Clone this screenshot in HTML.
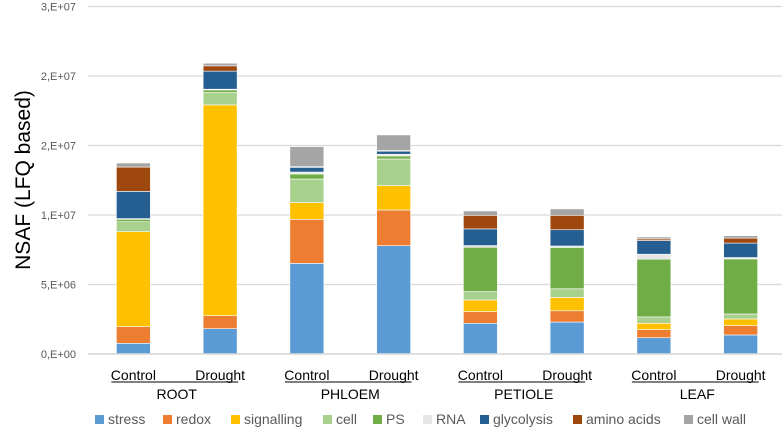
<!DOCTYPE html>
<html><head><meta charset="utf-8">
<style>
html,body{margin:0;padding:0;background:#fff;}
svg text{font-family:"Liberation Sans",sans-serif;}
</style></head>
<body>
<svg id="chart" width="784" height="432" viewBox="0 0 784 432" xmlns="http://www.w3.org/2000/svg"></svg>
<script>
const categories = ["Control","Drought","Control","Drought","Control","Drought","Control","Drought"];
const groups = ["ROOT","PHLOEM","PETIOLE","LEAF"];
const seriesNames = ["stress","redox","signalling","cell","PS","RNA","glycolysis","amino acids","cell wall"];
const seriesColors = ["#5b9bd5","#ed7d31","#ffc000","#a9d18e","#70ad47","#e7e6e6","#255e91","#9e480e","#a5a5a5"];
const stress      = [0.77e6,1.82e6,6.52e6,7.79e6,2.21e6,2.30e6,1.17e6,1.37e6];
const redox       = [1.20e6,0.94e6,3.17e6,2.57e6,0.84e6,0.81e6,0.58e6,0.67e6];
const signalling  = [6.83e6,15.16e6,1.20e6,1.75e6,0.84e6,0.96e6,0.46e6,0.48e6];
const cell        = [0.72e6,0.89e6,1.70e6,1.92e6,0.60e6,0.62e6,0.46e6,0.36e6];
const PS          = [0.17e6,0.19e6,0.36e6,0.22e6,3.19e6,2.98e6,4.15e6,3.96e6];
const RNA         = [0.05e6,0.05e6,0.14e6,0.12e6,0.12e6,0.10e6,0.36e6,0.10e6];
const glycolysis  = [1.96e6,1.30e6,0.34e6,0.22e6,1.20e6,1.17e6,0.98e6,1.04e6];
const aminoAcids  = [1.75e6,0.38e6,0.05e6,0.05e6,0.98e6,1.04e6,0.12e6,0.36e6];
const cellWall    = [0.29e6,0.19e6,1.44e6,1.12e6,0.31e6,0.46e6,0.14e6,0.17e6];
const yTickValues = [0,5e6,1e7,1.5e7,2e7,2.5e7];
const yTickLabels = ["0,E+00","5,E+06","1,E+07","2,E+07","2,E+07","3,E+07"];

const series = [stress,redox,signalling,cell,PS,RNA,glycolysis,aminoAcids,cellWall];
const NS="http://www.w3.org/2000/svg";
const svg=document.getElementById('chart');
const X0=90, X1=784, Y0=354, YMAX=2.5e7, YTOP=6.5;
const band=(X1-X0)/categories.length, barW=34;
function y(v){return Y0-(v/YMAX)*(Y0-YTOP);}
function xc(i){return X0+band*(i+0.5);}
function mk(tag,attrs,parent){const e=document.createElementNS(NS,tag);for(const k in attrs)e.setAttribute(k,attrs[k]);(parent||svg).appendChild(e);return e;}

// gridlines + tick labels
yTickValues.forEach((v,i)=>{
  const g=mk('line',{x1:88,x2:782,y1:y(v),y2:y(v),stroke:'#d9d9d9','stroke-width':1.3});
  
  
  const t=mk('text',{x:76,y:y(v)+4,'text-anchor':'end','font-size':11,fill:'#595959'});
  t.textContent=yTickLabels[i];
  
  
});

// bars
categories.forEach((c,i)=>{
  let acc=0;
  series.forEach((s,k)=>{
    const v=s[i];
    const r=mk('rect',{x:xc(i)-barW/2,y:y(acc+v),width:barW,height:Math.max(0,y(acc)-y(acc+v)),fill:seriesColors[k],stroke:'#fff','stroke-width':0.6});
    
    
    acc+=v;
  });
  const t=mk('text',{x:xc(i),y:380,'text-anchor':'middle','font-size':14,fill:'#000'});
  t.textContent=c;
  
  
});

// axis line
const ax=mk('line',{x1:88,x2:782,y1:Y0,y2:Y0,stroke:'#d9d9d9','stroke-width':1.5});



// groups
groups.forEach((g,j)=>{
  const a=xc(2*j)-22, b=xc(2*j+1)+18;
  const l=mk('line',{x1:a,x2:b,y1:382,y2:382,stroke:'#000','stroke-width':1});
  
  
  const t=mk('text',{x:(xc(2*j)+xc(2*j+1))/2,y:399,'text-anchor':'middle','font-size':14,fill:'#000'});
  t.textContent=g;
  
  
});

// y title
const yt=mk('text',{x:0,y:0,transform:'translate(30,180) rotate(-90)','text-anchor':'middle','font-size':21,fill:'#000'});
yt.textContent='NSAF (LFQ based)';



// legend
const legX=[95,163,231,323,373,423,480,573,684];
seriesNames.forEach((n,k)=>{
  const g=mk('g',{});
  
  
  mk('rect',{x:legX[k],y:415,width:9,height:9,fill:seriesColors[k]},g);
  const t=mk('text',{x:legX[k]+13,y:424,'font-size':14,fill:'#595959'},g);
  t.textContent=n;
});
</script>
</body></html>
